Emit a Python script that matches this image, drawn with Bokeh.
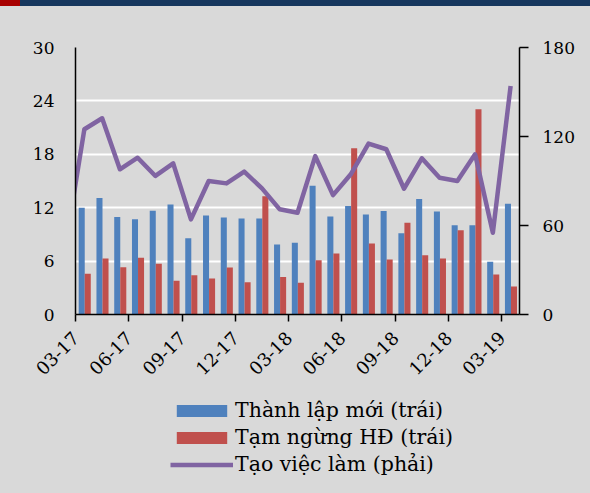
import math
from bokeh.plotting import figure
from bokeh.models import (Range1d, LinearAxis, FixedTicker, Legend, LegendItem,
                          Div, ColumnDataSource)
from bokeh.layouts import column
from bokeh.embed import file_html
from bokeh.resources import INLINE

# ---- data ----
months = ["03-17", "04-17", "05-17", "06-17", "07-17", "08-17", "09-17", "10-17",
          "11-17", "12-17", "01-18", "02-18", "03-18", "04-18", "05-18", "06-18",
          "07-18", "08-18", "09-18", "10-18", "11-18", "12-18", "01-19", "02-19",
          "03-19"]
new_firms = [12.0, 13.1, 10.95, 10.7, 11.65, 12.37, 8.58, 11.13, 10.9, 10.8,
             10.8, 7.87, 8.05, 14.47, 11.02, 12.18, 11.25, 11.62, 9.14, 12.97,
             11.58, 10.04, 10.04, 5.92, 12.44]
suspended = [4.57, 6.3, 5.32, 6.37, 5.7, 3.78, 4.42, 4.05, 5.28, 3.63,
             13.3, 4.2, 3.56, 6.1, 6.85, 18.67, 7.98, 6.18, 10.3, 6.67,
             6.3, 9.48, 23.06, 4.5, 3.15]
jobs = [124.9, 132.3, 97.9, 105.7, 93.4, 101.9, 64.1, 90.0, 88.4, 96.3,
        85.0, 70.9, 68.6, 106.8, 80.5, 94.5, 115.2, 111.4, 84.8, 105.3,
        92.2, 90.0, 108.0, 55.1, 154.1]
# the line enters from the previous month (clipped at the left edge)
prev_month = "02-17"
prev_jobs = 51.0

left_ticks = [0, 6, 12, 18, 24, 30]
right_ticks = [0, 60, 120, 180]
tick_months = ["03-17", "06-17", "09-17", "12-17", "03-18", "06-18", "09-18",
               "12-18", "03-19"]

label_new = "Thành lập mới (trái)"
label_susp = "Tạm ngừng HĐ (trái)"
label_jobs = "Tạo việc làm (phải)"

# ---- style ----
BG = "#d9d9d9"
BLUE = "#4f81bd"
RED = "#c0504d"
PURPLE = "#8064a2"
FONT = "DejaVu Serif"

idx = list(range(len(months)))
src = ColumnDataSource(dict(
    xb=[i + 0.35 for i in idx],
    xr=[i + 0.69 for i in idx],
    new=new_firms,
    susp=suspended,
))
line_src = ColumnDataSource(dict(
    x=[-0.5] + [i + 0.5 for i in idx],
    y=[prev_jobs] + jobs,
))

p = figure(width=590, height=386, output_backend="svg", toolbar_location=None,
           x_range=Range1d(0, len(months)), y_range=Range1d(0, 30),
           min_border_left=75, min_border_right=71, min_border_top=41,
           min_border_bottom=78)
p.extra_y_ranges = {"right": Range1d(0, 180)}
p.background_fill_color = BG
p.border_fill_color = BG
p.outline_line_color = None

p.vbar(x="xb", top="new", width=0.34, source=src, color=BLUE, line_color=None)
p.vbar(x="xr", top="susp", width=0.34, source=src, color=RED, line_color=None)
p.line(x="x", y="y", source=line_src, y_range_name="right",
       line_color=PURPLE, line_width=4.5, line_join="round")

# grid
p.xgrid.grid_line_color = None
p.ygrid.grid_line_color = "white"
p.ygrid.grid_line_width = 2
p.ygrid.ticker = FixedTicker(ticks=left_ticks)

# x axis
xa = p.xaxis[0]
xa.ticker = FixedTicker(ticks=[months.index(m) for m in tick_months])
xa.major_label_overrides = {months.index(m): m for m in tick_months}
xa.major_label_orientation = math.pi / 4
xa.axis_line_color = "black"
xa.axis_line_width = 1.5
xa.major_tick_line_color = "black"
xa.major_tick_line_width = 1.5
xa.major_tick_out = 7
xa.major_tick_in = 0
xa.minor_tick_line_color = None
xa.major_label_text_font = FONT
xa.major_label_text_font_size = "18px"
xa.major_label_text_color = "black"
xa.major_label_standoff = 13

# left axis
ya = p.yaxis[0]
ya.ticker = FixedTicker(ticks=left_ticks)
ya.axis_line_color = "black"
ya.axis_line_width = 1.5
ya.major_tick_out = 0
ya.major_tick_in = 0
ya.minor_tick_line_color = None
ya.major_label_text_font = FONT
ya.major_label_text_font_size = "17px"
ya.major_label_text_color = "black"
ya.major_label_standoff = 21

# right axis
ra = LinearAxis(y_range_name="right", ticker=FixedTicker(ticks=right_ticks))
ra.axis_line_color = "black"
ra.axis_line_width = 1.5
ra.major_tick_line_color = "black"
ra.major_tick_line_width = 1.5
ra.major_tick_out = 9
ra.major_tick_in = 0
ra.minor_tick_line_color = None
ra.major_label_text_font = FONT
ra.major_label_text_font_size = "17px"
ra.major_label_text_color = "black"
ra.major_label_standoff = 14
p.add_layout(ra, "right")

# legend panel (separate figure below the chart, same background)
lg = figure(width=590, height=101, output_backend="svg", toolbar_location=None,
            x_range=Range1d(0, 1), y_range=Range1d(0, 1),
            min_border_left=0, min_border_right=0, min_border_top=0,
            min_border_bottom=0)
lg.background_fill_color = None
lg.border_fill_color = BG
lg.outline_line_color = None
lg.axis.visible = False
lg.grid.grid_line_color = None
nan = float("nan")
empty = ColumnDataSource(dict(x=[nan], y=[nan]))
k_new = lg.vbar(x="x", top="y", width=0.3, source=empty, color=BLUE, line_color=None)
k_susp = lg.vbar(x="x", top="y", width=0.3, source=empty, color=RED, line_color=None)
k_jobs = lg.line(x="x", y="y", source=empty, line_color=PURPLE, line_width=4.5)

legend = Legend(items=[LegendItem(label=label_new, renderers=[k_new]),
                       LegendItem(label=label_susp, renderers=[k_susp]),
                       LegendItem(label=label_jobs, renderers=[k_jobs])],
                location=(95, 17), glyph_width=63, glyph_height=15,
                label_text_font=FONT, label_text_font_size="20.5px",
                label_text_color="black",
                label_height=22, label_standoff=2, spacing=3, padding=0, margin=0,
                border_line_color=None, background_fill_alpha=0)
lg.add_layout(legend)

band = Div(text="", width=590, height=6, margin=(0, 0, 0, 0),
           styles={"background": "linear-gradient(to right, #a80000 0px, #a80000 20px, #17375e 20px, #17375e 100%)"})

layout = column(band, p, lg, spacing=0, styles={"background": BG})
open("out.html", "w").write(file_html(layout, INLINE))
